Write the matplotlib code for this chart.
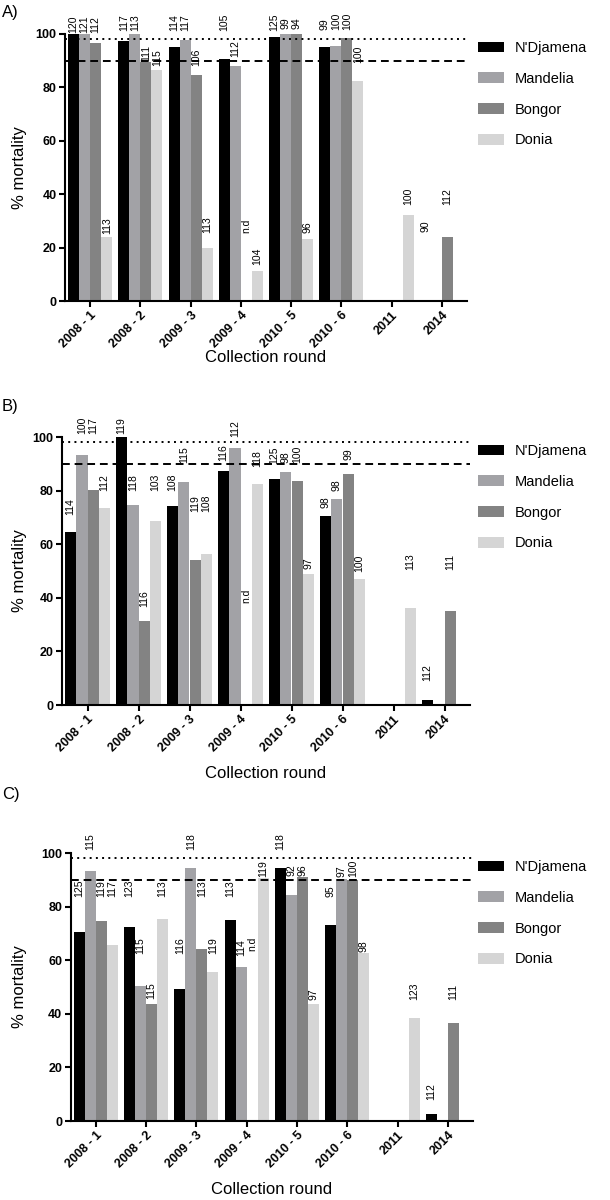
import matplotlib.pyplot as plt
import numpy as np
from matplotlib.patches import Patch

plt.rcParams['font.family'] = ['Liberation Sans', 'DejaVu Sans']

rounds = ['2008 - 1', '2008 - 2', '2009 - 3', '2009 - 4', '2010 - 5', '2010 - 6', '2011', '2014']
sites = ["N'Djamena", "Mandelia", "Bongor", "Donia"]
colors = ['#000000', '#a2a2a6', '#838383', '#d5d5d5']

# % mortality per site (None = not tested)
mort_a = [[100, 97.5, 95, 90.8, 98.8, 95, None, 0],
          [100, 100, 97.8, 87.9, 100, 95.5, None, None],
          [96.5, 89.5, 84.6, None, 100, 98.5, None, 24.1],
          [24.1, 86.5, 19.8, 11.3, 23.1, 82.5, 32.3, None]]
mort_b = [[64.4, 100, 74.3, 87.5, 84.4, 70.7, None, 1.9],
          [93.3, 74.5, 83.2, 96, 87, 77, None, None],
          [80.4, 31.3, 54, None, 83.4, 86.2, None, 35.1],
          [73.5, 68.5, 56.2, 82.4, 48.8, 47.1, 36.2, None]]
mort_c = [[70.4, 72.4, 49.4, 75, 94.5, 73, None, 2.5],
          [93.4, 50.5, 94.5, 57.3, 84.3, 90.4, None, None],
          [74.7, 43.5, 64.2, None, 91.2, 90, None, 36.4],
          [65.5, 75.5, 55.7, 90.5, 43.8, 62.8, 38.3, None]]

# number of mosquitoes tested
n_a = [[120, 117, 114, 105, 125, 99, None, 90],
       [121, 113, 117, 112, 99, 100, None, None],
       [112, 111, 106, 'n.d', 94, 100, None, 112],
       [113, 115, 113, 104, 96, 100, 100, None]]
n_b = [[114, 119, 108, 116, 125, 98, None, 112],
       [100, 118, 115, 112, 98, 98, None, None],
       [117, 116, 119, 'n.d', 100, 99, None, 111],
       [112, 103, 108, 118, 97, 100, 113, None]]
n_c = [[125, 123, 116, 113, 118, 95, None, 112],
       [115, 115, 118, 114, 92, 97, None, None],
       [119, 115, 113, 'n.d', 96, 100, None, 111],
       [117, 113, 119, 119, 97, 98, 123, None]]

# where the n labels sit (bottom of text, % units)
lab_a = [[100.5, 101, 101, 101, 101, 101.5, None, 26],
         [100.5, 101, 101, 91.5, 102, 101.5, None, None],
         [100.5, 90, 88, 25.5, 102, 101.5, None, 36],
         [25, 88, 25.5, 13.5, 25.5, 89, 36, None]]
lab_b = [[71, 101, 79.7, 91, 90, 73.5, None, 9],
         [101, 79.7, 90.3, 100, 90.3, 79.7, None, None],
         [101, 36.7, 72, 38, 90.3, 91.5, None, 50.4],
         [80, 79.7, 72.2, 88.8, 50.8, 49.8, 50.4, None]]
lab_c = [[83.5, 83.5, 62.5, 83.5, 101, 83.5, None, 8],
         [101, 62.5, 101, 61.5, 91.5, 91, None, None],
         [83.5, 45.5, 83.5, 63.5, 91.5, 91, None, 45],
         [83.5, 83.5, 62.5, 91, 45, 63, 45, None]]

fig = plt.figure(figsize=(6.1, 12), dpi=100)

# tag, data, n, label heights, axes box in px (l, t, r, b), tag y, xlabel gap
panels = [('A)', mort_a, n_a, lab_a, [65, 34, 467, 301], 12, 57),
          ('B)', mort_b, n_b, lab_b, [62, 437, 470, 705], 407, 68),
          ('C)', mort_c, n_c, lab_c, [70.6, 853, 473, 1121], 795, 68)]

W, H = 610, 1200
x = np.arange(len(rounds))
w = 0.22

for tag, mort, ns, labs, box, tag_y, gap in panels:
    l, t, r, b = box
    ax = fig.add_axes([l / W, 1 - b / H, (r - l) / W, (b - t) / H])
    for j in range(4):
        off = (j - 1.5) * w
        for i in range(len(rounds)):
            v = mort[j][i]
            if v is not None and v > 0:
                ax.bar(x[i] + off, v, w, color=colors[j], linewidth=0)
            if ns[j][i] is not None:
                ax.text(x[i] + off, labs[j][i], str(ns[j][i]), rotation=90,
                        ha='center', va='bottom', fontsize=7.5)
    ax.axhline(98, color='black', linestyle=(0, (1, 2.2)), linewidth=1.4)
    ax.axhline(90, color='black', linestyle=(0, (4, 2.5)), linewidth=1.4)
    ax.set_xlim(-0.5, 7.5)
    ax.set_ylim(0, 100)
    ax.set_yticks([0, 20, 40, 60, 80, 100])
    ax.set_xticks(x)
    ax.set_xticklabels(rounds, rotation=45, ha='right', rotation_mode='anchor',
                       fontweight='bold', fontsize=9)
    for lab in ax.get_yticklabels():
        lab.set_fontweight('bold')
        lab.set_fontsize(9)
    ax.spines['top'].set_visible(False)
    ax.spines['right'].set_visible(False)
    ax.spines['left'].set_linewidth(1.5)
    ax.spines['bottom'].set_linewidth(1.5)
    ax.tick_params(width=1.5, length=4, pad=2)
    fig.text(2 / W, 1 - tag_y / H, tag, fontsize=12, va='center', ha='left')
    fig.text(20 / W, 1 - (t + b) / 2 / H, '% mortality', rotation=90,
             fontsize=12, va='center', ha='center')
    fig.text((l + r) / 2 / W, 1 - (b + gap) / H, 'Collection round',
             fontsize=12, va='center', ha='center')
    handles = [Patch(facecolor=c, edgecolor='none') for c in colors]
    fig.legend(handles, sites, loc='upper left',
               bbox_to_anchor=(478 / W, 1 - (t + 7) / H),
               frameon=False, fontsize=10.5, handlelength=1.8, handleheight=0.75,
               labelspacing=1.15, borderpad=0, borderaxespad=0, handletextpad=0.7)

fig.savefig('out.png', dpi=100)
